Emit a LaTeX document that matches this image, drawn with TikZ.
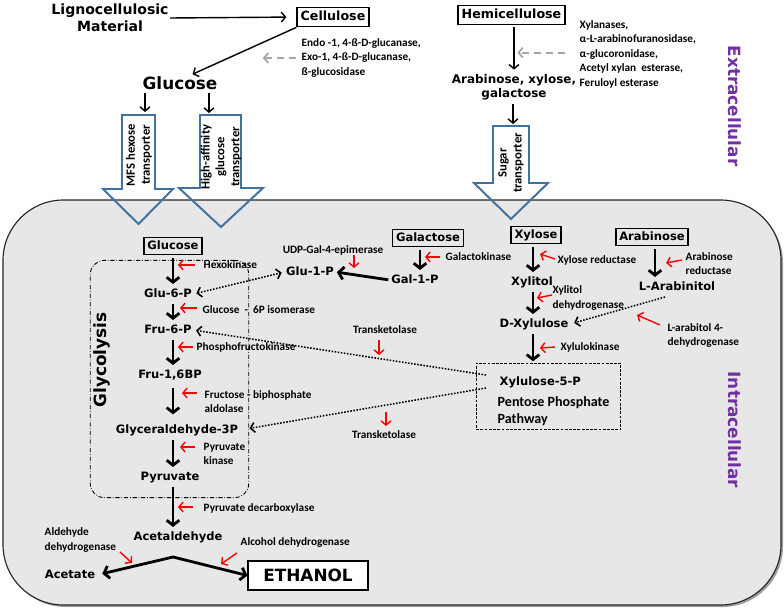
\documentclass[tikz,border=0pt]{standalone}
\usepackage{fontspec}
\usetikzlibrary{arrows.meta}
\newfontfamily\dv{DejaVu Sans}
\newfontfamily\cb{Carlito}
\definecolor{purp}{RGB}{112,48,160}
\definecolor{tpblue}{RGB}{65,113,156}
\definecolor{cellgray}{RGB}{231,231,231}
\definecolor{dgray}{RGB}{166,166,166}
\tikzset{
  bt/.tip={Straight Barb[length=3pt,width=7pt]},
  BT/.tip={Straight Barb[length=3.5pt,width=9pt]},
  lbl/.style={font=\dv\bfseries\fontsize{8.2}{10}\selectfont, inner sep=1pt, text height=6.3pt, text depth=1.6pt},
  bx/.style={lbl, draw, line width=1.2pt, inner xsep=2.5pt, inner ysep=2pt},
  bigbx/.style={draw, line width=1.2pt, font=\dv\bfseries\fontsize{9}{11}\selectfont, inner xsep=2.5pt, inner ysep=2.5pt, text height=6.8pt, text depth=1.8pt},
  enz/.style={font=\cb\bfseries\fontsize{8}{10}\selectfont, inner sep=1pt, align=left},
  tptext/.style={font=\cb\bfseries\fontsize{9}{10.6}\selectfont, align=center, inner sep=0pt},
  side/.style={font=\dv\bfseries\fontsize{12}{14}\selectfont, text=purp, inner sep=0pt},
  main/.style={line width=2pt, -BT, shorten <=2pt, shorten >=2pt},
  thinar/.style={line width=1pt, -bt},
  enzar/.style={red, line width=1pt, -bt},
  dotar/.style={line width=1.1pt, dash pattern=on 1.1pt off 1.1pt},
  grayd/.style={dgray, line width=1.3pt, dash pattern=on 5pt off 3.5pt, -bt},
  tp/.style={draw=tpblue, line width=1.4pt, line join=miter},
}
\begin{document}
\begin{tikzpicture}[x=0.025cm,y=-0.025cm]
\useasboundingbox (0,0) rectangle (784,612);

% cell
\fill[gray!75, rounded corners=43pt] (5,202) rectangle (783,607);
\draw[fill=cellgray, line width=0.8pt, draw=black!85, rounded corners=43pt] (3,200) rectangle (781,605);

% extracellular
\node[font=\dv\bfseries\fontsize{10}{12}\selectfont, align=center, inner sep=1pt] (lign) at (110,18) {Lignocellulosic\\Material};
\node[bigbx] (cell) at (333,17) {Cellulose};
\node[bigbx] (hemi) at (511.5,15) {Hemicellulose};
\node[font=\dv\bfseries\fontsize{12}{14}\selectfont, inner sep=1pt] (glcbig) at (180,83) {Glucose};
\node[enz, anchor=west] (endo) at (300,58) {Endo -1, 4-ß-D-glucanase,\\Exo-1, 4-ß-D-glucanase,\\ß-glucosidase};
\node[enz, anchor=west, font=\cb\bfseries\fontsize{8}{10.3}\selectfont] (xylen) at (578,54) {Xylanases,\\α-L-arabinofuranosidase,\\α-glucoronidase,\\Acetyl xylan\ \ esterase,\\Feruloyl esterase};
\node[font=\dv\bfseries\fontsize{8.5}{10}\selectfont, align=center, inner sep=1pt] (axg) at (514,87) {Arabinose, xylose,\\galactose};
\node[side, rotate=-90] (extra) at (735,106) {Extracellular};
\node[side, rotate=-90] (intra) at (735,430) {Intracellular};

\draw[thinar, shorten >=7pt] (lign.east) -- (cell.west);
\draw[thinar, shorten >=1pt] (cell.south west) -- ([xshift=8pt]glcbig.north);
\draw[grayd] ([xshift=-3pt]endo.west) -- +(-33,0);
\draw[thinar, shorten <=1pt, shorten >=2pt] (hemi.south -| axg) -- (axg.north);
\draw[grayd] ([xshift=-9pt,yshift=1pt]xylen.west) -- +(-48,0);

% transporters
\draw[tp] (122,115) -- (155,115) -- (155,189) -- (173,189) -- (138.5,224) -- (103,189) -- (122,189) -- cycle;
\node[tptext, rotate=90] (mfs) at (139,155) {MFS hexose\\transporter};
\draw[tp] (200,115) -- (241,115) -- (241,188) -- (263,188) -- (221,227) -- (179,188) -- (200,188) -- cycle;
\node[tptext, rotate=90] (hag) at (221,157) {High-affinity\\glucose\\transporter};
\draw[tp] (493,126) -- (529,126) -- (529,183) -- (548,183) -- (511,219) -- (474,183) -- (493,183) -- cycle;
\node[tptext, rotate=90] (sug) at (511,163) {Sugar\\transporter};
\coordinate (mfsT) at (145,112);
\coordinate (hagT) at (209,113);
\coordinate (sugT) at (513,124);
\draw[thinar, shorten <=1pt] (glcbig.south -| mfsT) -- (mfsT);
\draw[thinar, shorten <=1pt] (glcbig.south -| hagT) -- (hagT);
\draw[thinar, shorten <=2pt] (axg.south -| sugT) -- (sugT);

% glycolysis frame and PPP box
\node[draw, line width=0.6pt, dash pattern=on 3pt off 1.3pt on 0.5pt off 1.3pt, rounded corners=10pt, minimum width=112.7pt, minimum height=168.7pt] (glyc) at (169.5,379) {};
\node[font=\dv\bfseries\fontsize{12}{14}\selectfont, rotate=90, inner sep=0pt] (glyclbl) at (102,360) {Glycolysis};
\node[draw, line width=0.6pt, dash pattern=on 2pt off 1pt, minimum width=102.8pt, minimum height=47.5pt] (ppp) at (548.5,396.5) {};
\node[lbl, anchor=west] (x5p) at (498,382) {Xylulose-5-P};
\node[font=\cb\bfseries\fontsize{10}{12}\selectfont, align=left, inner sep=1pt, anchor=west] (ppptxt) at (496,411.5) {Pentose Phosphate\\Pathway};

% intracellular metabolites
\node[bx] (glc2) at (173,246) {Glucose};
\node[lbl] (g6p) at (168,294) {Glu-6-P};
\node[lbl] (f6p) at (168,330) {Fru-6-P};
\node[lbl] (f16) at (170,375) {Fru-1,6BP};
\node[lbl] (gap) at (177,430) {Glyceraldehyde-3P};
\node[lbl] (pyr) at (170,477) {Pyruvate};
\node[lbl] (acald) at (178,537) {Acetaldehyde};
\node[lbl] (acet) at (70,575) {Acetate};
\node[draw, line width=1.2pt, font=\dv\bfseries\fontsize{12}{14}\selectfont, minimum width=85pt, minimum height=20.5pt, inner sep=1pt, fill=white] (eth) at (308,575.5) {ETHANOL};
\node[lbl] (g1p) at (310,272) {Glu-1-P};
\node[lbl] (gal1p) at (415,280) {Gal-1-P};
\node[bx] (galbox) at (428,238) {Galactose};
\node[bx] (xylbox) at (536,235) {Xylose};
\node[bx] (arabox) at (652,237) {Arabinose};
\node[lbl] (xylitol) at (532,282) {Xylitol};
\node[lbl] (dxyl) at (534,324) {D-Xylulose};
\node[lbl] (larab) at (677,287) {L-Arabinitol};

% enzymes
\node[enz, anchor=west] (hexo) at (202,265) {Hexokinase};
\node[enz, anchor=west] (g6pi) at (201,310) {Glucose~ -~ 6P isomerase};
\node[enz, anchor=west] (pfk) at (195,347) {Phosphofructokinase};
\node[enz, anchor=west] (fba) at (203,401.5) {Fructose - biphosphate\\aldolase};
\node[enz, anchor=west] (pk) at (202,454) {Pyruvate\\kinase};
\node[enz, anchor=west] (pdc) at (202,508) {Pyruvate decarboxylase};
\node[enz, anchor=west] (aldh) at (43,540) {Aldehyde\\dehydrogenase};
\node[enz, anchor=west] (adh) at (239,543) {Alcohol dehydrogenase};
\node[enz] (udp) at (333,250) {UDP-Gal-4-epimerase};
\node[enz, anchor=west] (galk) at (444,257) {Galactokinase};
\node[enz, anchor=west] (xr) at (556,260) {Xylose reductase};
\node[enz, anchor=west] (xdh) at (551,298) {Xylitol\\dehydrogenase};
\node[enz, anchor=west] (ar) at (684,264) {Arabinose\\reductase};
\node[enz, anchor=west] (lad) at (666,335.5) {L-arabitol 4-\\dehydrogenase};
\node[enz, anchor=west] (xk) at (559,347) {Xylulokinase};
\node[enz] (tk1) at (385,330) {Transketolase};
\node[enz] (tk2) at (384,435) {Transketolase};

% main pathway arrows
\coordinate (cA) at (173,0);
\coordinate (cG) at (420,0);
\coordinate (cX) at (533,0);
\coordinate (cR) at (655,0);
\draw[main] (glc2.south -| cA) -- (g6p.north -| cA);
\draw[main] (g6p.south -| cA) -- (f6p.north -| cA);
\draw[main] (f6p.south -| cA) -- (f16.north -| cA);
\draw[main, shorten <=4pt, shorten >=6pt] (f16.south -| cA) -- (gap.north -| cA);
\draw[main] (gap.south -| cA) -- (pyr.north -| cA);
\draw[main] (pyr.south -| cA) -- (acald.north -| cA);
\coordinate (br) at (173,557);
\draw[line width=2pt, BT-BT, shorten <=4pt] (acet.east) -- (br) -- (eth.west);
\draw[main] (galbox.south -| cG) -- (gal1p.north -| cG);
\draw[main, shorten <=1pt, shorten >=1pt] (gal1p.west) -- (g1p.east);
\draw[main] (xylbox.south -| cX) -- (xylitol.north -| cX);
\draw[main] (xylitol.south -| cX) -- (dxyl.north -| cX);
\draw[main, shorten >=1pt] (dxyl.south -| cX) -- (ppp.north -| cX);
\draw[main] (arabox.south -| cR) -- (larab.north -| cR);

% dotted connections
\coordinate (pa) at (486,375);
\coordinate (pb) at (486,388);
\coordinate (la) at (665,297);
\draw[dotar, bt-bt, shorten <=2pt, shorten >=2pt] (g6p.east) -- (g1p.west);
\draw[dotar, -bt, shorten >=2pt] (pa) -- (f6p.east);
\draw[dotar, -bt, shorten >=7pt] (pb) -- (gap.east);
\draw[dotar, -bt, shorten >=3pt] (la) -- (dxyl.east);

% enzyme (red) arrows
\foreach \a/\b in {
  {(195,265)}/{(178,265)}, {(197,308)}/{(180,308)}, {(193,347)}/{(178,347)},
  {(197,393)}/{(182,393)}, {(195,447)}/{(180,447)}, {(193,507)}/{(178,507)},
  {(120,552)}/{(132,563)}, {(237,553)}/{(221,564)}, {(354,255)}/{(354,268)},
  {(440,257)}/{(425,257)}, {(555,259)}/{(540,254)}, {(552,295)}/{(537,298)},
  {(682,260)}/{(666,263)}, {(660,325)}/{(637,315)}, {(555,347)}/{(540,348)},
  {(379,340)}/{(379,355)}, {(386,412)}/{(386,426)}}
  \draw[enzar] \a -- \b;
\end{tikzpicture}
\end{document}
